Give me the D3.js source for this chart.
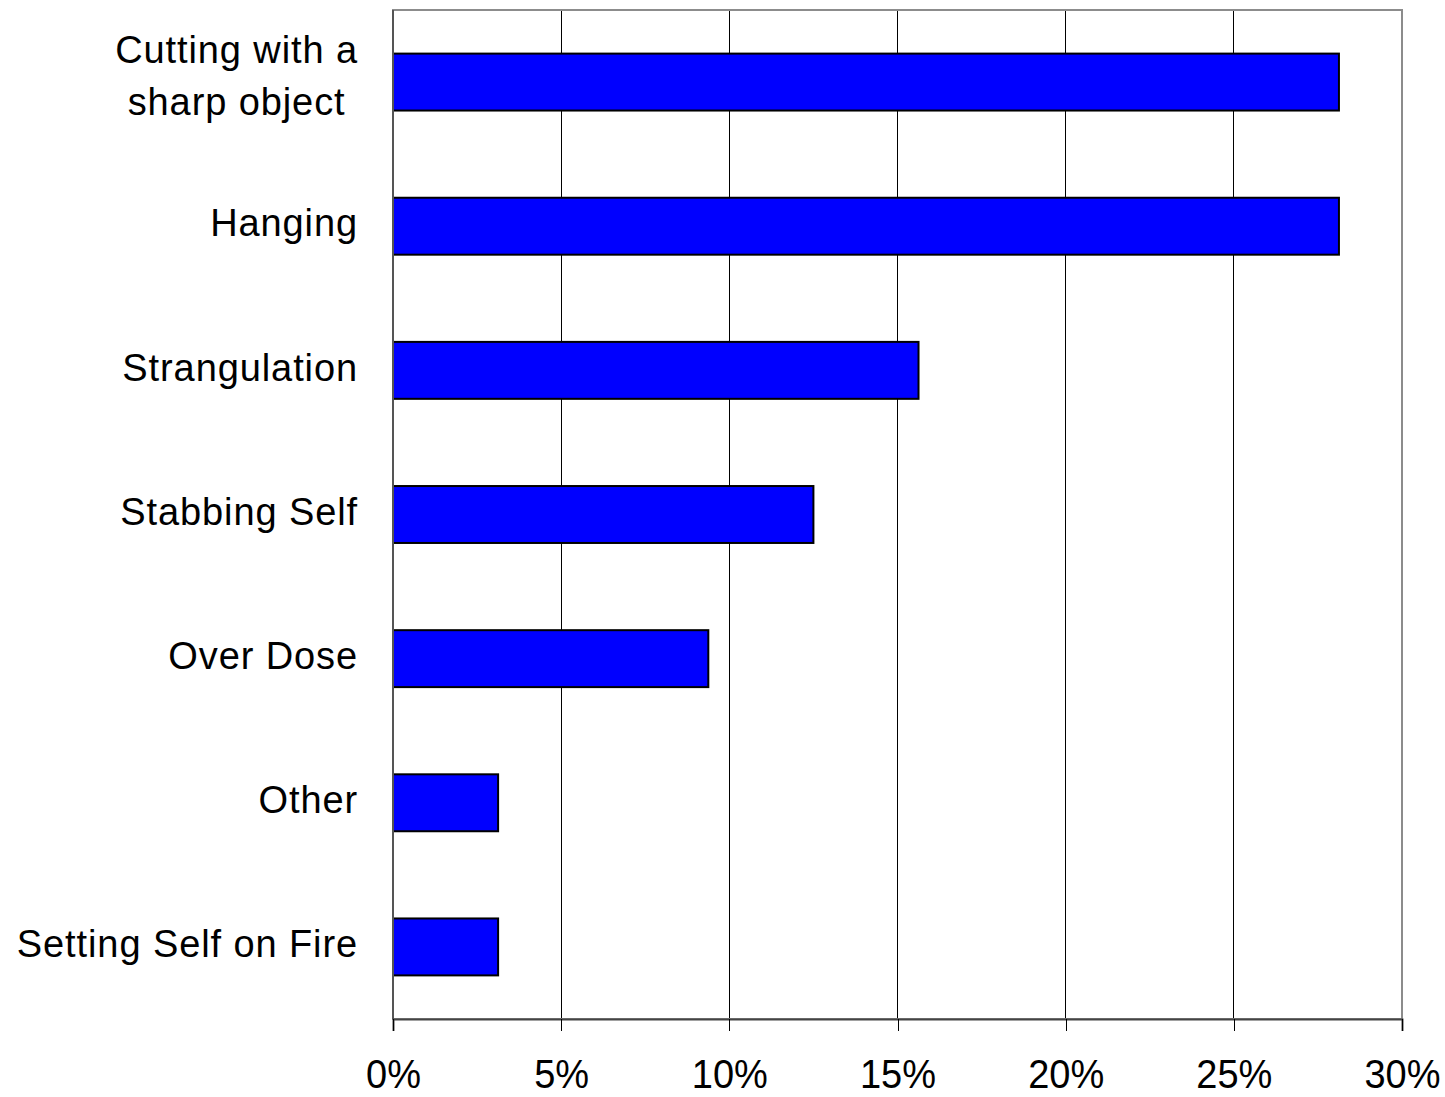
<!DOCTYPE html>
<html>
<head>
<meta charset="utf-8">
<script src="https://cdn.jsdelivr.net/npm/d3@7"></script>
<style>
  html, body { margin: 0; padding: 0; background: #fff; }
  svg { display: block; }
  text { font-family: "Liberation Sans", Arial, sans-serif; fill: #000; }
</style>
</head>
<body>
<script>
// Methods of self-harm, share of cases
const categories = [
  ["Cutting with a", "sharp object"],
  ["Hanging"],
  ["Strangulation"],
  ["Stabbing Self"],
  ["Over Dose"],
  ["Other"],
  ["Setting Self on Fire"]
];
const values = [0.28125, 0.28125, 0.15625, 0.125, 0.09375, 0.03125, 0.03125];
const tickValues = [0, 0.05, 0.10, 0.15, 0.20, 0.25, 0.30];

const W = 1445, H = 1097;
const plot = { left: 393, right: 1402, top: 10, bottom: 1019 };

const svg = d3.select("body").append("svg")
  .attr("width", W).attr("height", H);

const x = d3.scaleLinear().domain([0, 0.30]).range([plot.left, plot.right]);
const y = d3.scaleBand().domain(d3.range(categories.length))
  .range([plot.top, plot.bottom]).paddingInner(0.605).paddingOuter(0.3025);

// vertical gridlines
svg.append("g").selectAll("line")
  .data(tickValues.slice(1, -1))
  .join("line")
  .attr("x1", d => x(d)).attr("x2", d => x(d))
  .attr("y1", plot.top).attr("y2", plot.bottom)
  .attr("stroke", "#000").attr("stroke-width", 1)
  .attr("shape-rendering", "crispEdges");

// plot frame
svg.append("rect")
  .attr("x", plot.left).attr("y", plot.top)
  .attr("width", plot.right - plot.left).attr("height", plot.bottom - plot.top)
  .attr("fill", "none").attr("stroke", "#8c8c8c").attr("stroke-width", 2);

// bars
svg.append("g").selectAll("rect")
  .data(values)
  .join("rect")
  .attr("x", x(0))
  .attr("y", (d, i) => y(i))
  .attr("width", d => x(d) - x(0))
  .attr("height", y.bandwidth())
  .attr("fill", "#0000ff")
  .attr("stroke", "#000").attr("stroke-width", 2);

// left axis line
svg.append("line")
  .attr("x1", plot.left).attr("x2", plot.left)
  .attr("y1", plot.top).attr("y2", plot.bottom)
  .attr("stroke", "#555").attr("stroke-width", 2);

// bottom axis
const xAxis = d3.axisBottom(x)
  .tickValues(tickValues)
  .tickFormat(d3.format(".0%"))
  .tickSize(12)
  .tickPadding(30);
const gx = svg.append("g").attr("transform", `translate(0,${plot.bottom})`).call(xAxis);
gx.select(".domain").attr("stroke", "#444").attr("stroke-width", 2);
gx.selectAll(".tick line").attr("stroke", "#000").attr("stroke-width", 1)
  .attr("shape-rendering", "crispEdges");
// tick labels: baseline placed explicitly, glyphs slightly tall
gx.selectAll(".tick text")
  .attr("y", 0).attr("dy", null)
  .attr("transform", "translate(0,69) scale(1,1.06)")
  .style("font-family", '"Liberation Sans", Arial, sans-serif')
  .style("font-size", "38px").attr("fill", "#000");

// category labels: right-aligned block, lines centred within it
const labelRight = 358;
const lineGap = 52;
const lg = svg.append("g").style("font-size", "38px").style("letter-spacing", "0.9px");
categories.forEach((lines, i) => {
  const cy = y(i) + y.bandwidth() / 2;
  const t = lg.append("text").attr("text-anchor", "middle");
  const shift = lines.length > 1 ? -3 : 0;
  lines.forEach((ln, j) => {
    t.append("tspan").attr("x", 0)
      .attr("y", cy + shift + (j - (lines.length - 1) / 2) * lineGap)
      .attr("dy", "0.27em").text(ln);
  });
  const bb = t.node().getBBox();
  t.attr("transform", `translate(${labelRight - bb.width / 2},0)`);
});
</script>
</body>
</html>
